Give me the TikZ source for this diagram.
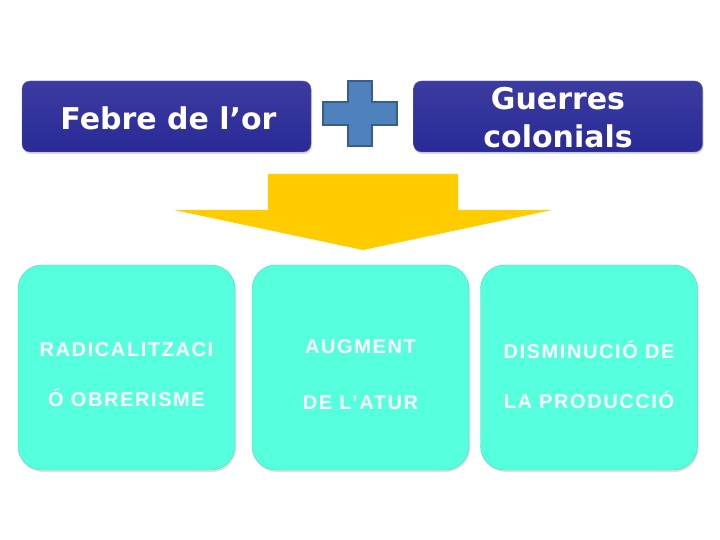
\documentclass[tikz,border=0pt]{standalone}
\usepackage{fontspec}
\usepackage{tikz}
\usetikzlibrary{shadows}
\newfontfamily\topfont{DejaVu Sans}
\newfontfamily\boxfont[LetterSpace=8]{Liberation Sans}
\definecolor{fosc}{RGB}{42,42,152}
\definecolor{aigua}{RGB}{85,255,222}
\definecolor{groc}{RGB}{255,204,0}
\definecolor{creu}{RGB}{79,129,189}
\definecolor{creuvora}{RGB}{56,93,138}
\tikzset{
  tbox/.style={rounded corners=8pt,top color=fosc!92!white,bottom color=fosc,
    draw=fosc!75,minimum width=289pt,minimum height=71pt,
    drop shadow={shadow xshift=1pt,shadow yshift=-2pt,opacity=0.3}},
  bbox/.style={rounded corners=24pt,fill=aigua,draw=aigua!85!black,
    minimum width=217pt,minimum height=205pt,
    drop shadow={shadow xshift=1pt,shadow yshift=-2pt,opacity=0.25}},
  ttxt/.style={text=white,font=\topfont\bfseries\fontsize{30}{38}\selectfont,align=center},
  btxt/.style={text=white,font=\boxfont\bfseries\fontsize{20}{50}\selectfont,align=center}
}
\begin{document}
\begin{tikzpicture}[x=1pt,y=-1pt]
\useasboundingbox (0,0) rectangle (720,540);
% caixes de dalt
   \node[tbox] (febre) at (166.5,116.5) {};
   \node[ttxt] (tfebre) at (168.5,118) {Febre de l’or};
   \node[tbox] (guerres) at (558,116.5) {};
   \node[ttxt] (tguerres) at (558,118) {Guerres\\colonials};
% creu
   \draw[fill=creu,draw=creuvora,line width=1.5pt] (348,81) -- (372,81) --
   (372,102) -- (397,102) -- (397,125) -- (372,125) -- (372,146) --
   (348,146) -- (348,125) -- (323,125) -- (323,102) -- (348,102) -- cycle;
% fletxa
   \fill[groc] (268,174) -- (458,174) -- (458,210) -- (552,210) --
   (363,250) -- (174,210) -- (268,210) -- cycle;
% caixes de baix
   \node[bbox] (radical) at (126.5,367.5) {};
   \node[btxt] (tradical) at (126.5,375) {RADICALITZACI\\Ó OBRERISME};
   \node[bbox] (augment) at (360.5,367.5) {};
   \node[btxt,font=\boxfont\bfseries\fontsize{20}{56}\selectfont] (taugment)
   at (360.5,375) {AUGMENT\\DE L’ATUR};
   \node[bbox] (disminucio) at (589,367.5) {};
   \node[btxt] (tdisminucio) at (589,375) {DISMINUCIÓ DE\\LA PRODUCCIÓ};
\end{tikzpicture}
\end{document}
